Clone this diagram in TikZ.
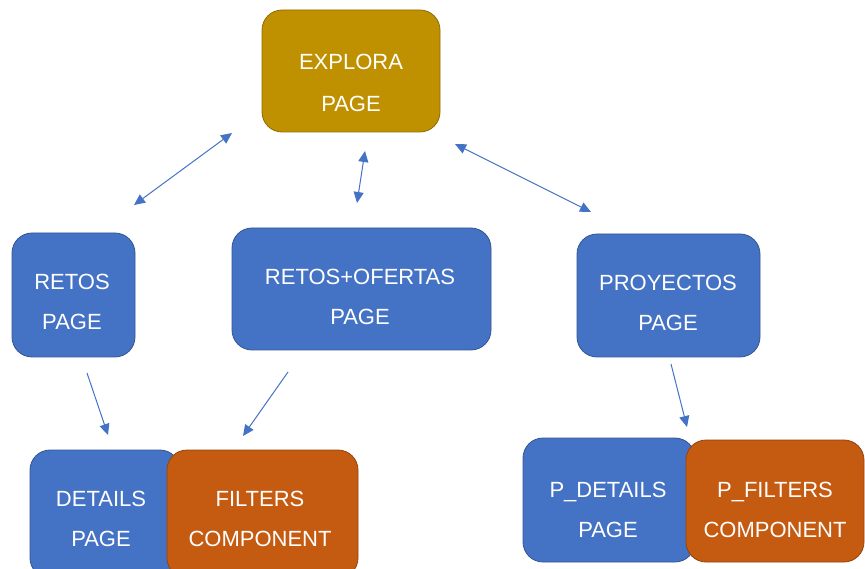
\documentclass[tikz,border=0pt]{standalone}
\usepackage{fontspec}
\setmainfont{Liberation Sans}
\usetikzlibrary{arrows.meta}

\definecolor{boxblue}{HTML}{4472C4}
\definecolor{boxgold}{HTML}{BF9000}
\definecolor{boxorange}{HTML}{C55A11}
\definecolor{linkblue}{HTML}{4472C4}

\tikzset{
  card/.style={rectangle, rounded corners=20pt, fill=#1, draw=#1!75!black,
               line width=0.8pt, inner sep=0pt},
  cardtext/.style={text=white, align=center, inner sep=0pt,
                   font=\fontsize{22}{40}\selectfont},
  tip/.style={Triangle[length=11pt,width=10pt]},
  link/.style={draw=linkblue, line width=1pt, -{Triangle[length=11pt,width=10pt]}},
  dlink/.style={draw=linkblue, line width=1pt,
               {Triangle[length=11pt,width=10pt]}-{Triangle[length=11pt,width=10pt]}}
}

\begin{document}
\begin{tikzpicture}[x=1pt,y=-1pt]
  \useasboundingbox (0,0) rectangle (865,569);
  \clip (0,0) rectangle (865,569);

  % boxes
  \node[card=boxgold, minimum width=178pt, minimum height=122pt] (explora) at (351,71) {};
  \node[card=boxblue, minimum width=123pt, minimum height=124pt] (retos) at (73.5,295) {};
  \node[card=boxblue, minimum width=259pt, minimum height=122pt] (ofertas) at (361.5,289) {};
  \node[card=boxblue, minimum width=183pt, minimum height=123pt] (proyectos) at (668.5,295.5) {};
  \node[card=boxblue, minimum width=150pt, minimum height=128pt] (details) at (105,514) {};
  \node[card=boxorange, minimum width=191pt, minimum height=128pt] (filters) at (262.5,514) {};
  \node[card=boxblue, minimum width=172pt, minimum height=124pt] (pdetails) at (609,500) {};
  \node[card=boxorange, minimum width=178pt, minimum height=122pt] (pfilters) at (775,501) {};

  % labels
  \node[cardtext, font=\fontsize{22}{42}\selectfont] (explora-t) at (351,83) {EXPLORA\\PAGE};
  \node[cardtext] (retos-t) at (72,301.5) {RETOS\\PAGE};
  \node[cardtext] (ofertas-t) at (360,296.5) {RETOS+OFERTAS\\PAGE};
  \node[cardtext] (proyectos-t) at (668,302.5) {PROYECTOS\\PAGE};
  \node[cardtext] (details-t) at (101,518.5) {DETAILS\\PAGE};
  \node[cardtext] (filters-t) at (260,518.5) {FILTERS\\COMPONENT};
  \node[cardtext] (pdetails-t) at (608,510) {P\_DETAILS\\PAGE};
  \node[cardtext] (pfilters-t) at (775,510) {P\_FILTERS\\COMPONENT};

  % connector end points
  \coordinate (a1) at (232,133);  \coordinate (a2) at (134,205);
  \coordinate (b1) at (365,151);  \coordinate (b2) at (357,203);
  \coordinate (c1) at (455,144);  \coordinate (c2) at (591,212);
  \coordinate (d1) at (87,373);   \coordinate (d2) at (108,435);
  \coordinate (e1) at (288,372);  \coordinate (e2) at (243,436);
  \coordinate (f1) at (671,364);  \coordinate (f2) at (687,427);

  % connectors
  \draw[dlink] (a1) -- (a2);
  \draw[dlink] (b1) -- (b2);
  \draw[dlink] (c1) -- (c2);
  \draw[link] (d1) -- (d2);
  \draw[link] (e1) -- (e2);
  \draw[link] (f1) -- (f2);
\end{tikzpicture}
\end{document}
